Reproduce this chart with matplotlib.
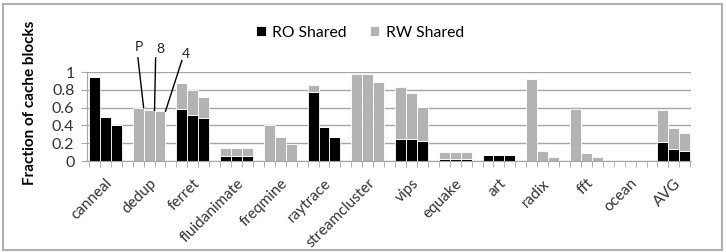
import numpy as np
import matplotlib
matplotlib.use('Agg')
import matplotlib.pyplot as plt
from matplotlib.patches import Rectangle

plt.rcParams['font.family'] = ['Lato', 'DejaVu Sans']

# 数据：每个程序三根柱 (P / 8 / 4)
benchmarks = ['canneal', 'dedup', 'ferret', 'fluidanimate', 'freqmine', 'raytrace',
              'streamcluster', 'vips', 'equake', 'art', 'radix', 'fft', 'ocean', 'AVG']
ro_shared = [
    [0.94, 0.50, 0.40],
    [0.00, 0.00, 0.00],
    [0.59, 0.52, 0.48],
    [0.06, 0.06, 0.06],
    [0.00, 0.00, 0.00],
    [0.78, 0.38, 0.27],
    [0.00, 0.00, 0.00],
    [0.25, 0.25, 0.23],
    [0.02, 0.02, 0.02],
    [0.07, 0.07, 0.07],
    [0.00, 0.00, 0.00],
    [0.00, 0.00, 0.00],
    [0.00, 0.00, 0.00],
    [0.21, 0.14, 0.11],
]
rw_shared = [
    [0.00, 0.00, 0.00],
    [0.60, 0.57, 0.56],
    [0.29, 0.28, 0.24],
    [0.09, 0.09, 0.09],
    [0.40, 0.27, 0.19],
    [0.07, 0.00, 0.00],
    [0.98, 0.98, 0.89],
    [0.58, 0.51, 0.38],
    [0.08, 0.08, 0.08],
    [0.00, 0.00, 0.00],
    [0.92, 0.11, 0.05],
    [0.59, 0.09, 0.05],
    [0.005, 0.005, 0.005],
    [0.36, 0.23, 0.20],
]
config_labels = ['P', '8', '4']

ro = np.array(ro_shared)
rw = np.array(rw_shared)
n_grp = len(benchmarks)
# 每组 3 根柱 + 1 个空位
x = np.array([[4 * g + k for k in range(3)] for g in range(n_grp)])

fig = plt.figure(figsize=(7.26, 2.52), dpi=100)
ax = fig.add_axes([0.1198, 0.361, 0.8325, 0.353])

ax.bar(x.ravel(), ro.ravel(), width=1.0, color='black', edgecolor='white',
       linewidth=0.6, label='RO Shared', zorder=3)
ax.bar(x.ravel(), rw.ravel(), width=1.0, bottom=ro.ravel(), color='#b3b3b3',
       edgecolor='white', linewidth=0.6, label='RW Shared', zorder=3)

ax.set_ylim(0, 1)
ax.set_xlim(-0.68, 54.6)
ax.set_yticks(np.arange(0, 1.01, 0.2))
ax.set_yticklabels(['0', '0.2', '0.4', '0.6', '0.8', '1'], fontsize=11.5, color='#333333')
ax.yaxis.grid(True, color='#a6a6a6', linewidth=1, zorder=0)
ax.tick_params(axis='y', length=4, color='#a6a6a6', pad=5)

for s in ['right', 'top']:
    ax.spines[s].set_visible(False)
for s in ['left', 'bottom']:
    ax.spines[s].set_color('#a6a6a6')
    ax.spines[s].set_zorder(4)

ax.set_xticks(np.arange(-0.5, 55, 1.0), minor=True)
ax.tick_params(axis='x', which='minor', length=4, color='#a6a6a6', direction='out')
ax.set_xticks(x[:, 1])
ax.set_xticklabels(benchmarks, rotation=45, ha='right', va='top',
                   rotation_mode='anchor', fontsize=11, color='#333333')
ax.tick_params(axis='x', which='major', length=0, pad=11)

fig.text(0.041, 0.591, 'Fraction of cache blocks', rotation=90, ha='center', va='center',
         fontsize=11, fontweight='bold')

# dedup 上方的标注
g = benchmarks.index('dedup')
text_pos = [(x[g, 0] + 0.05, 1.21), (x[g, 1] + 1.0, 1.19), (x[g, 2] + 2.35, 1.14)]
line_start = [(x[g, 0] - 0.02, 1.16), (x[g, 1] + 0.6, 1.16), (x[g, 2] + 2.0, 1.13)]
for k in range(3):
    top = ro[g, k] + rw[g, k]
    ax.text(text_pos[k][0], text_pos[k][1], config_labels[k], fontsize=10,
            ha='center', va='bottom', color='#222222')
    ax.plot([line_start[k][0], x[g, k] + 0.5], [line_start[k][1], top],
            color='black', lw=1.0, clip_on=False, zorder=5)

fig.legend(loc='center', bbox_to_anchor=(0.496, 0.869), ncol=2, frameon=False,
           fontsize=11.3, handlelength=0.6, handleheight=0.6, handletextpad=0.4,
           columnspacing=1.5)

fig.patches.append(Rectangle((0.004, 0.008), 0.99, 0.978, transform=fig.transFigure,
                             fill=False, edgecolor='#b0b0b0', linewidth=1.5))

fig.savefig('out.png', dpi=100)
